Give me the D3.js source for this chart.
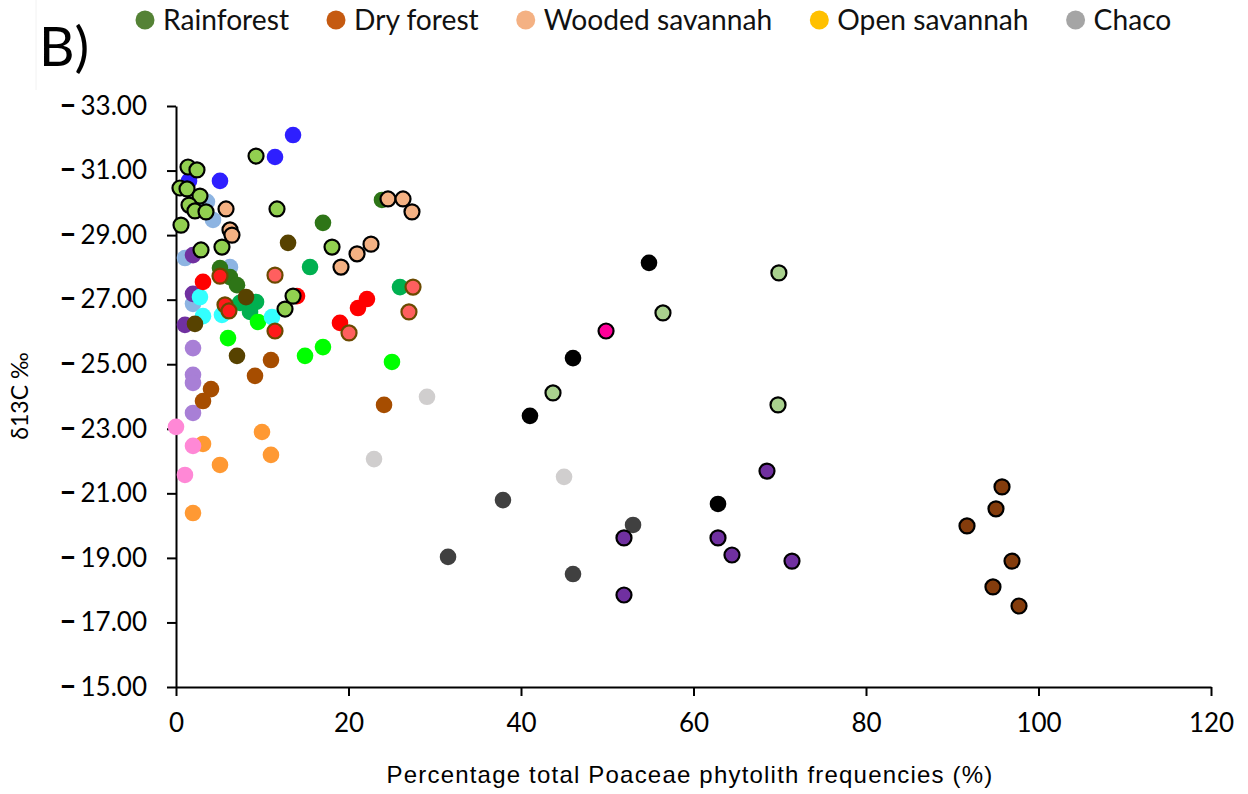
<!DOCTYPE html>
<html>
<head>
<meta charset="utf-8">
<script src="https://cdn.jsdelivr.net/npm/d3@7/dist/d3.min.js"></script>
<style>
  html, body { margin: 0; padding: 0; background: #fff; }
  svg { display: block; }
</style>
</head>
<body>
<svg id="chart" width="1248" height="794"></svg>
<script>
// ---- data: [Poaceae phytolith %, δ13C ‰] per sample group ----
const rainforestSites = [[1.39,-31.11],[2.43,-31.02],[0.46,-30.46],[1.28,-30.43],[2.78,-30.21],[1.51,-29.93],[2.20,-29.75],[3.48,-29.72],[0.58,-29.31],[2.90,-28.54],[5.33,-28.63],[9.28,-31.45],[11.71,-29.81],[13.57,-27.11],[12.64,-26.71],[18.09,-28.63]];
const paleGreenSites = [[69.9,-27.83],[56.46,-26.59],[43.71,-24.11],[69.8,-23.74]];
const blueSites = [[13.57,-32.10],[11.48,-31.42],[5.10,-30.68],[1.51,-30.68]];
const lightBlueSites = [[3.59,-30.03],[4.29,-29.47],[1.04,-28.29],[6.26,-28.01],[1.97,-26.87]];
const cyanSites = [[2.78,-27.08],[3.13,-26.49],[5.33,-26.53],[11.13,-26.46]];
const purpleSites = [[1.97,-28.38],[1.97,-27.18],[1.04,-26.22]];
const lavenderSites = [[1.97,-25.50],[1.97,-24.67],[1.97,-24.42],[1.97,-23.49]];
const darkGreenSites = [[5.10,-27.98],[6.26,-27.70],[7.07,-27.45],[17.04,-29.38],[23.88,-30.09]];
const mediumGreenSites = [[15.54,-28.01],[25.97,-27.39],[7.42,-26.90],[9.28,-26.93],[8.58,-26.62]];
const brightGreenSites = [[6.03,-25.81],[9.51,-26.31],[14.96,-25.26],[17.04,-25.53],[25.04,-25.07]];
const redSites = [[3.13,-27.55],[14.03,-27.11],[19.01,-26.28],[21.10,-26.74],[22.14,-27.02]];
const redOutlinedSites = [[5.10,-27.73],[5.68,-26.84],[6.14,-26.65],[11.48,-26.03]];
const salmonSites = [[11.48,-27.76],[20.06,-25.97],[27.48,-27.39],[27.01,-26.62]];
const oliveSites = [[12.99,-28.76],[8.12,-27.08],[2.20,-26.25],[7.07,-25.26]];
const rustSites = [[11.01,-25.13],[9.16,-24.64],[4.06,-24.23],[3.13,-23.86],[24.12,-23.74]];
const orangeSites = [[3.13,-22.53],[9.97,-22.90],[11.01,-22.19],[5.10,-21.88],[1.97,-20.39]];
const pinkSites = [[0.0,-23.06],[1.97,-22.47],[1.04,-21.57]];
const woodedSavannahSites = [[5.80,-29.81],[6.26,-29.16],[6.49,-29.00],[24.58,-30.12],[26.32,-30.12],[27.36,-29.72],[19.13,-28.01],[20.99,-28.42],[22.61,-28.72]];
const lightGreySites = [[29.10,-23.99],[22.96,-22.06],[44.99,-21.51]];
const darkGreySites = [[37.91,-20.79],[31.54,-19.03],[46.03,-18.50],[52.99,-20.02]];
const blackSites = [[54.84,-28.14],[46.03,-25.19],[41.04,-23.40],[62.84,-20.67]];
const magentaSites = [[49.86,-26.03]];
const purpleOutlinedSites = [[68.52,-21.69],[51.94,-19.62],[62.84,-19.62],[64.46,-19.09],[71.42,-18.90],[51.94,-17.85]];
const brownOutlinedSites = [[95.77,-21.20],[95.07,-20.52],[91.71,-19.99],[96.93,-18.90],[94.72,-18.10],[97.74,-17.51]];

const legendLabels = ["Rainforest", "Dry forest", "Wooded savannah", "Open savannah", "Chaco"];
const legendColors = ["#548235", "#c55a11", "#f4b183", "#ffc000", "#a5a5a5"];

const xTicks = [0, 20, 40, 60, 80, 100, 120];
const yTicks = [-33, -31, -29, -27, -25, -23, -21, -19, -17, -15];

// drawing order: plain dots first, outlined dots on top
const series = [
  { pts: lightBlueSites, fill: "#8db4e2" },
  { pts: blueSites, fill: "#2e1fff" },
  { pts: purpleSites, fill: "#7030a0" },
  { pts: lavenderSites, fill: "#a87fd6" },
  { pts: darkGreenSites, fill: "#2e7517" },
  { pts: mediumGreenSites, fill: "#00b050" },
  { pts: brightGreenSites, fill: "#00ff00" },
  { pts: cyanSites, fill: "#33ffff" },
  { pts: redSites, fill: "#ff0000" },
  { pts: oliveSites, fill: "#574200" },
  { pts: rustSites, fill: "#a64d00" },
  { pts: orangeSites, fill: "#ff9933" },
  { pts: pinkSites, fill: "#ff88d6" },
  { pts: lightGreySites, fill: "#d0cece" },
  { pts: darkGreySites, fill: "#404040" },
  { pts: blackSites, fill: "#000000" },
  { pts: redOutlinedSites, fill: "#ff1a1a", stroke: "#6b4a00" },
  { pts: salmonSites, fill: "#ff5f5f", stroke: "#6b4a00" },
  { pts: rainforestSites, fill: "#92d050", stroke: "#000000" },
  { pts: woodedSavannahSites, fill: "#f4b183", stroke: "#000000" },
  { pts: paleGreenSites, fill: "#a9d18e", stroke: "#000000" },
  { pts: magentaSites, fill: "#ff0099", stroke: "#000000" },
  { pts: purpleOutlinedSites, fill: "#7030a0", stroke: "#000000" },
  { pts: brownOutlinedSites, fill: "#843c0c", stroke: "#000000" }
];

const svg = d3.select("#chart");
const font = "Lato, 'Open Sans', sans-serif";

const x = d3.scaleLinear().domain([0, 120]).range([176, 1211]);
const y = d3.scaleLinear().domain([-33, -15]).range([106, 687]);

// faint frame corner at the top-left
svg.append("path").attr("d", "M36,0V90").attr("stroke", "#f2f2f2").attr("stroke-width", 1).attr("fill", "none");

// panel tag
svg.append("text").attr("x", 39).attr("y", 66).attr("font-family", font)
  .attr("font-size", 55).attr("fill", "#000").text("B)");

// legend
const legend = svg.append("g").attr("font-family", font).attr("font-size", 28.2);
let lx = 145;
legendLabels.forEach((lab, i) => {
  legend.append("circle").attr("cx", lx).attr("cy", 20).attr("r", 9.5).attr("fill", legendColors[i]);
  const t = legend.append("text").attr("x", lx + 18).attr("y", 30).attr("fill", "#111").text(lab);
  const w = t.node().getComputedTextLength();
  lx = lx + 18 + w + 47;
});

// y axis
const yAxis = svg.append("g").attr("transform", "translate(176,0)")
  .call(d3.axisLeft(y).tickValues(yTicks).tickSize(9).tickSizeOuter(0).tickPadding(20));
yAxis.select(".domain").attr("stroke", "#000").attr("stroke-width", 2);
yAxis.selectAll(".tick line").attr("stroke", "#000").attr("stroke-width", 2);
yAxis.selectAll(".tick text").each(function(d) {
  const t = d3.select(this).text(null).attr("font-family", font).attr("font-size", 26).attr("fill", "#000");
  t.append("tspan").attr("font-weight", 900).attr("font-size", 30).text("–");
  t.append("tspan").attr("dx", 4).text(Math.abs(d).toFixed(2));
});

// x axis
const xAxis = svg.append("g").attr("transform", "translate(0,687)")
  .call(d3.axisBottom(x).tickValues(xTicks).tickSize(9).tickSizeOuter(0).tickPadding(18));
xAxis.select(".domain").attr("stroke", "#000").attr("stroke-width", 2);
xAxis.selectAll(".tick line").attr("stroke", "#000").attr("stroke-width", 2);
xAxis.selectAll(".tick text").attr("font-family", font).attr("font-size", 26).attr("fill", "#000");

// axis titles
svg.append("text").attr("transform", "translate(28,396) rotate(-90)").attr("text-anchor", "middle")
  .attr("font-family", font).attr("font-size", 23).attr("fill", "#000").text("δ13C ‰");
svg.append("text").attr("x", 690).attr("y", 783).attr("text-anchor", "middle")
  .attr("font-family", "'Liberation Sans', Arial, sans-serif").attr("font-size", 24)
  .attr("letter-spacing", 1.2).attr("fill", "#000")
  .text("Percentage total Poaceae phytolith frequencies (%)");

// points
const plot = svg.append("g");
series.forEach(s => {
  plot.append("g").selectAll("circle").data(s.pts).join("circle")
    .attr("cx", d => x(d[0])).attr("cy", d => y(d[1]))
    .attr("r", s.stroke ? 7.5 : 8.3)
    .attr("fill", s.fill)
    .attr("stroke", s.stroke || "none")
    .attr("stroke-width", s.stroke ? 2.2 : 0);
});
</script>
</body>
</html>
